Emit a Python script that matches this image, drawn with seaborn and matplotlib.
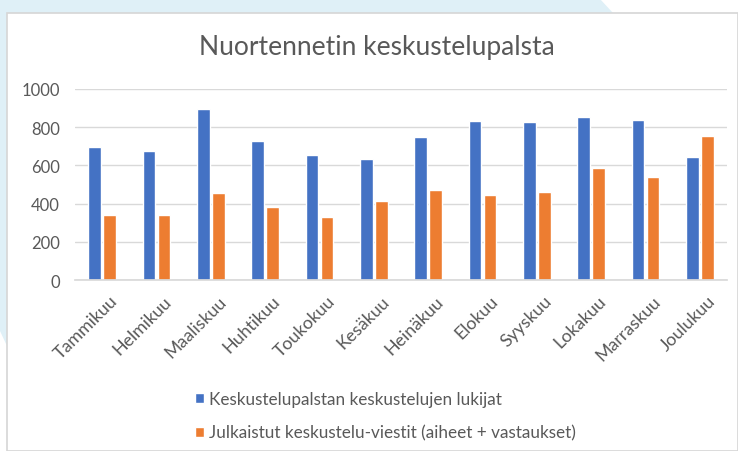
import pandas as pd
import matplotlib.pyplot as plt
import seaborn as sns
from matplotlib.patches import Polygon, Rectangle
import matplotlib.transforms as mtransforms

# --- data ---
months = ["Tammikuu", "Helmikuu", "Maaliskuu", "Huhtikuu", "Toukokuu", "Kesäkuu",
          "Heinäkuu", "Elokuu", "Syyskuu", "Lokakuu", "Marraskuu", "Joulukuu"]
readers = [697, 673, 897, 729, 653, 636, 751, 833, 826, 852, 840, 642]
posts = [341, 341, 455, 381, 332, 416, 469, 446, 460, 586, 539, 756]
series_names = ["Keskustelupalstan keskustelujen lukijat",
                "Julkaistut keskustelu-viestit (aiheet + vastaukset)"]
y_ticks = [0, 200, 400, 600, 800, 1000]

df = pd.DataFrame({
    "kuukausi": months * 2,
    "arvo": readers + posts,
    "sarja": [series_names[0]] * len(months) + [series_names[1]] * len(months),
})

sns.set_theme(style="white")
plt.rcParams["font.family"] = ["Lato", "DejaVu Sans"]

W, H = 738, 452
fig = plt.figure(figsize=(W / 100, H / 100), dpi=100)
fig.patch.set_facecolor("white")

# background decoration (light blue slide shape behind the chart card)
def px(x, y):
    return (x / W, 1 - y / H)

bg = Polygon([px(0, 0), px(600, 0), px(613, 14), px(7, 14), px(7, 347), px(0, 332)],
             closed=True, transform=fig.transFigure, facecolor="#DFF0F7",
             edgecolor="none", zorder=0)
fig.patches.append(bg)
card = Rectangle(px(7, 452), (W - 7) / W, (452 - 14) / H, transform=fig.transFigure,
                 facecolor="white", edgecolor="#D6D6D6", lw=1.2, zorder=0.5)
fig.patches.append(card)

ax = fig.add_axes([75 / W, 1 - 281 / H, (727 - 75) / W, (281 - 90) / H])
ax.set_facecolor("none")
ax.set_zorder(2)

sns.barplot(data=df, x="kuukausi", y="arvo", hue="sarja",
            palette=["#4472C4", "#ED7D31"], width=0.55, gap=0.15,
            saturation=1, ax=ax, legend=True)

ax.set_ylim(0, 1000)
ax.set_yticks(y_ticks)
ax.set_xlim(-0.5, len(months) - 0.5)
ax.yaxis.grid(True, color="#D9D9D9", lw=1)
ax.set_axisbelow(True)
for s in ["top", "right", "left"]:
    ax.spines[s].set_visible(False)
ax.spines["bottom"].set_color("#D9D9D9")
ax.set_xlabel("")
ax.set_ylabel("")
ax.tick_params(axis="y", length=0, pad=11, labelsize=12, labelcolor="#595959")
ax.tick_params(axis="x", length=0, pad=9, labelsize=12.8, labelcolor="#595959")

offset = mtransforms.ScaledTranslation(7 / 100, 0, fig.dpi_scale_trans)
for lbl in ax.get_xticklabels():
    lbl.set_rotation(45)
    lbl.set_ha("right")
    lbl.set_rotation_mode("anchor")
    lbl.set_transform(lbl.get_transform() + offset)

handles, labels = ax.get_legend_handles_labels()
ax.get_legend().remove()
fig.legend(handles, labels, loc="upper left", bbox_to_anchor=(188 / W, 1 - 385 / H),
           ncol=1, frameon=False, fontsize=12.3, labelcolor="#595959",
           handlelength=0.55, handleheight=0.55, handletextpad=0.3,
           labelspacing=1.05, borderaxespad=0)

fig.text(377 / W, 1 - 48 / H, "Nuortennetin keskustelupalsta", ha="center", va="center",
         fontsize=19, color="#595959")

fig.savefig("out.png", dpi=100)
